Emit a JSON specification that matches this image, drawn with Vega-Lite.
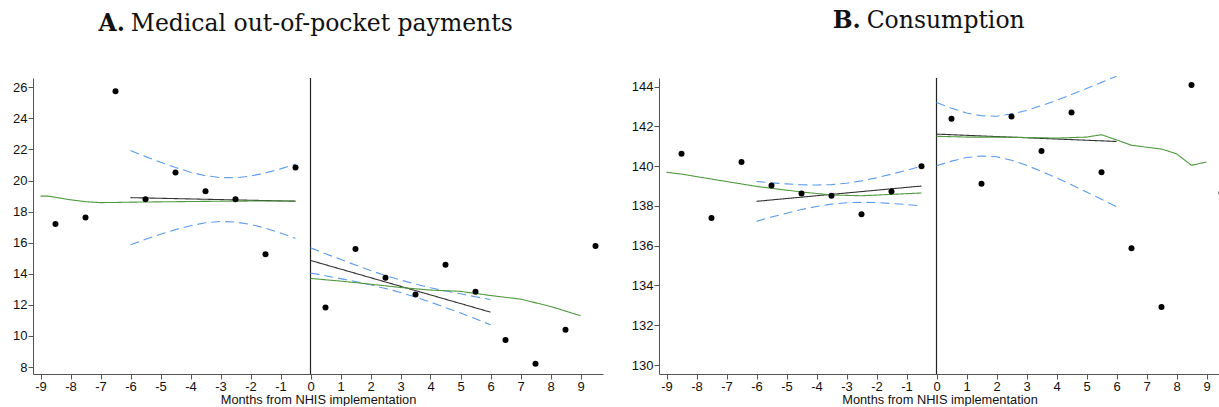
{
  "$schema": "https://vega.github.io/schema/vega-lite/v6.json",
  "padding": {"left": 12, "top": 8, "right": 0, "bottom": 0},
  "spacing": 28,
  "background": "white",
  "config": {
    "view": {"stroke": null},
    "axis": {
      "domainColor": "#555", "tickColor": "#555", "labelColor": "#111",
      "labelFont": "Liberation Sans", "labelFontSize": 13, "tickSize": 5, "labelPadding": 1,
      "grid": false, "titleFont": "Liberation Sans", "titleFontSize": 12.8, "titleFontWeight": "normal",
      "titleColor": "#111", "titlePadding": 0, "labelExpr": "'' + datum.value"
    },
    "title": {"font": "DejaVu Serif", "fontSize": 23.5, "fontWeight": "normal", "color": "#111", "frame": "bounds", "anchor": "middle"}
  },
  "datasets": {
    "ptsA": [
      {"x": -8.5, "y": 17.2}, {"x": -7.5, "y": 17.63}, {"x": -6.5, "y": 25.75}, {"x": -5.5, "y": 18.8},
      {"x": -4.5, "y": 20.52}, {"x": -3.5, "y": 19.31}, {"x": -2.5, "y": 18.8}, {"x": -1.5, "y": 15.25},
      {"x": -0.5, "y": 20.84}, {"x": 0.5, "y": 11.83}, {"x": 1.5, "y": 15.59}, {"x": 2.5, "y": 13.74},
      {"x": 3.5, "y": 12.67}, {"x": 4.5, "y": 14.58}, {"x": 5.5, "y": 12.84}, {"x": 6.5, "y": 9.74},
      {"x": 7.5, "y": 8.21}, {"x": 8.5, "y": 10.39}, {"x": 9.5, "y": 15.78}
    ],
    "linesA": [
      {"x": -6, "y": 18.9, "s": "fit", "g": "pre"}, {"x": -0.5, "y": 18.67, "s": "fit", "g": "pre"},
      {"x": 0, "y": 14.86, "s": "fit", "g": "post"}, {"x": 6, "y": 11.53, "s": "fit", "g": "post"},
      {"x": -6, "y": 21.93, "s": "upper", "g": "pre"}, {"x": -5.5, "y": 21.54, "s": "upper", "g": "pre"},
      {"x": -5, "y": 21.18, "s": "upper", "g": "pre"}, {"x": -4.5, "y": 20.84, "s": "upper", "g": "pre"},
      {"x": -4, "y": 20.54, "s": "upper", "g": "pre"}, {"x": -3.5, "y": 20.31, "s": "upper", "g": "pre"},
      {"x": -3, "y": 20.19, "s": "upper", "g": "pre"}, {"x": -2.5, "y": 20.18, "s": "upper", "g": "pre"},
      {"x": -2, "y": 20.29, "s": "upper", "g": "pre"}, {"x": -1.5, "y": 20.49, "s": "upper", "g": "pre"},
      {"x": -1, "y": 20.75, "s": "upper", "g": "pre"}, {"x": -0.5, "y": 21.06, "s": "upper", "g": "pre"},
      {"x": -6, "y": 15.87, "s": "lower", "g": "pre"}, {"x": -5.5, "y": 16.22, "s": "lower", "g": "pre"},
      {"x": -5, "y": 16.54, "s": "lower", "g": "pre"}, {"x": -4.5, "y": 16.84, "s": "lower", "g": "pre"},
      {"x": -4, "y": 17.09, "s": "lower", "g": "pre"}, {"x": -3.5, "y": 17.28, "s": "lower", "g": "pre"},
      {"x": -3, "y": 17.37, "s": "lower", "g": "pre"}, {"x": -2.5, "y": 17.33, "s": "lower", "g": "pre"},
      {"x": -2, "y": 17.18, "s": "lower", "g": "pre"}, {"x": -1.5, "y": 16.94, "s": "lower", "g": "pre"},
      {"x": -1, "y": 16.63, "s": "lower", "g": "pre"}, {"x": -0.5, "y": 16.28, "s": "lower", "g": "pre"},
      {"x": 0, "y": 15.67, "s": "upper", "g": "post"}, {"x": 0.5, "y": 15.29, "s": "upper", "g": "post"},
      {"x": 1, "y": 14.93, "s": "upper", "g": "post"}, {"x": 1.5, "y": 14.56, "s": "upper", "g": "post"},
      {"x": 2, "y": 14.21, "s": "upper", "g": "post"}, {"x": 2.5, "y": 13.89, "s": "upper", "g": "post"},
      {"x": 3, "y": 13.6, "s": "upper", "g": "post"}, {"x": 3.5, "y": 13.34, "s": "upper", "g": "post"},
      {"x": 4, "y": 13.1, "s": "upper", "g": "post"}, {"x": 4.5, "y": 12.89, "s": "upper", "g": "post"},
      {"x": 5, "y": 12.71, "s": "upper", "g": "post"}, {"x": 5.5, "y": 12.52, "s": "upper", "g": "post"},
      {"x": 6, "y": 12.34, "s": "upper", "g": "post"},
      {"x": 0, "y": 14.05, "s": "lower", "g": "post"}, {"x": 0.5, "y": 13.87, "s": "lower", "g": "post"},
      {"x": 1, "y": 13.69, "s": "lower", "g": "post"}, {"x": 1.5, "y": 13.5, "s": "lower", "g": "post"},
      {"x": 2, "y": 13.29, "s": "lower", "g": "post"}, {"x": 2.5, "y": 13.05, "s": "lower", "g": "post"},
      {"x": 3, "y": 12.8, "s": "lower", "g": "post"}, {"x": 3.5, "y": 12.5, "s": "lower", "g": "post"},
      {"x": 4, "y": 12.18, "s": "lower", "g": "post"}, {"x": 4.5, "y": 11.83, "s": "lower", "g": "post"},
      {"x": 5, "y": 11.47, "s": "lower", "g": "post"}, {"x": 5.5, "y": 11.1, "s": "lower", "g": "post"},
      {"x": 6, "y": 10.72, "s": "lower", "g": "post"},
      {"x": -9, "y": 19.0, "s": "lowess", "g": "pre"}, {"x": -8.75, "y": 19.0, "s": "lowess", "g": "pre"},
      {"x": -8.5, "y": 18.92, "s": "lowess", "g": "pre"}, {"x": -8, "y": 18.76, "s": "lowess", "g": "pre"},
      {"x": -7.5, "y": 18.64, "s": "lowess", "g": "pre"}, {"x": -7, "y": 18.58, "s": "lowess", "g": "pre"},
      {"x": -6.5, "y": 18.59, "s": "lowess", "g": "pre"}, {"x": -6, "y": 18.61, "s": "lowess", "g": "pre"},
      {"x": -5, "y": 18.63, "s": "lowess", "g": "pre"}, {"x": -4, "y": 18.65, "s": "lowess", "g": "pre"},
      {"x": -3, "y": 18.67, "s": "lowess", "g": "pre"}, {"x": -2, "y": 18.68, "s": "lowess", "g": "pre"},
      {"x": -1, "y": 18.68, "s": "lowess", "g": "pre"}, {"x": -0.5, "y": 18.68, "s": "lowess", "g": "pre"},
      {"x": 0, "y": 13.7, "s": "lowess", "g": "post"}, {"x": 1, "y": 13.53, "s": "lowess", "g": "post"},
      {"x": 2, "y": 13.33, "s": "lowess", "g": "post"}, {"x": 3, "y": 13.12, "s": "lowess", "g": "post"},
      {"x": 4, "y": 12.95, "s": "lowess", "g": "post"}, {"x": 5, "y": 12.87, "s": "lowess", "g": "post"},
      {"x": 6, "y": 12.6, "s": "lowess", "g": "post"}, {"x": 7, "y": 12.37, "s": "lowess", "g": "post"},
      {"x": 8, "y": 11.9, "s": "lowess", "g": "post"}, {"x": 9, "y": 11.3, "s": "lowess", "g": "post"}
    ],
    "ptsB": [
      {"x": -8.5, "y": 140.62}, {"x": -7.5, "y": 137.39}, {"x": -6.5, "y": 140.21}, {"x": -5.5, "y": 139.03},
      {"x": -4.5, "y": 138.63}, {"x": -3.5, "y": 138.51}, {"x": -2.5, "y": 137.58}, {"x": -1.5, "y": 138.73},
      {"x": -0.5, "y": 139.99}, {"x": 0.5, "y": 142.38}, {"x": 1.5, "y": 139.12}, {"x": 2.5, "y": 142.5},
      {"x": 3.5, "y": 140.76}, {"x": 4.5, "y": 142.7}, {"x": 5.5, "y": 139.69}, {"x": 6.5, "y": 135.87},
      {"x": 7.5, "y": 132.92}, {"x": 8.5, "y": 144.08}, {"x": 9.5, "y": 138.65}
    ],
    "linesB": [
      {"x": -6, "y": 138.23, "s": "fit", "g": "pre"}, {"x": -0.5, "y": 139.0, "s": "fit", "g": "pre"},
      {"x": 0, "y": 141.61, "s": "fit", "g": "post"}, {"x": 6, "y": 141.24, "s": "fit", "g": "post"},
      {"x": -6, "y": 139.23, "s": "upper", "g": "pre"}, {"x": -5.5, "y": 139.16, "s": "upper", "g": "pre"},
      {"x": -5, "y": 139.11, "s": "upper", "g": "pre"}, {"x": -4.5, "y": 139.06, "s": "upper", "g": "pre"},
      {"x": -4, "y": 139.05, "s": "upper", "g": "pre"}, {"x": -3.5, "y": 139.07, "s": "upper", "g": "pre"},
      {"x": -3, "y": 139.14, "s": "upper", "g": "pre"}, {"x": -2.5, "y": 139.26, "s": "upper", "g": "pre"},
      {"x": -2, "y": 139.41, "s": "upper", "g": "pre"}, {"x": -1.5, "y": 139.6, "s": "upper", "g": "pre"},
      {"x": -1, "y": 139.79, "s": "upper", "g": "pre"}, {"x": -0.5, "y": 140.0, "s": "upper", "g": "pre"},
      {"x": -6, "y": 137.23, "s": "lower", "g": "pre"}, {"x": -5.5, "y": 137.44, "s": "lower", "g": "pre"},
      {"x": -5, "y": 137.63, "s": "lower", "g": "pre"}, {"x": -4.5, "y": 137.82, "s": "lower", "g": "pre"},
      {"x": -4, "y": 137.97, "s": "lower", "g": "pre"}, {"x": -3.5, "y": 138.09, "s": "lower", "g": "pre"},
      {"x": -3, "y": 138.16, "s": "lower", "g": "pre"}, {"x": -2.5, "y": 138.18, "s": "lower", "g": "pre"},
      {"x": -2, "y": 138.17, "s": "lower", "g": "pre"}, {"x": -1.5, "y": 138.12, "s": "lower", "g": "pre"},
      {"x": -1, "y": 138.07, "s": "lower", "g": "pre"}, {"x": -0.5, "y": 138.0, "s": "lower", "g": "pre"},
      {"x": 0, "y": 143.2, "s": "upper", "g": "post"}, {"x": 0.5, "y": 142.91, "s": "upper", "g": "post"},
      {"x": 1, "y": 142.67, "s": "upper", "g": "post"}, {"x": 1.5, "y": 142.53, "s": "upper", "g": "post"},
      {"x": 2, "y": 142.51, "s": "upper", "g": "post"}, {"x": 2.5, "y": 142.62, "s": "upper", "g": "post"},
      {"x": 3, "y": 142.8, "s": "upper", "g": "post"}, {"x": 3.5, "y": 143.04, "s": "upper", "g": "post"},
      {"x": 4, "y": 143.31, "s": "upper", "g": "post"}, {"x": 4.5, "y": 143.6, "s": "upper", "g": "post"},
      {"x": 5, "y": 143.9, "s": "upper", "g": "post"}, {"x": 5.5, "y": 144.21, "s": "upper", "g": "post"},
      {"x": 6, "y": 144.52, "s": "upper", "g": "post"},
      {"x": 0, "y": 140.02, "s": "lower", "g": "post"}, {"x": 0.5, "y": 140.25, "s": "lower", "g": "post"},
      {"x": 1, "y": 140.43, "s": "lower", "g": "post"}, {"x": 1.5, "y": 140.51, "s": "lower", "g": "post"},
      {"x": 2, "y": 140.47, "s": "lower", "g": "post"}, {"x": 2.5, "y": 140.3, "s": "lower", "g": "post"},
      {"x": 3, "y": 140.04, "s": "lower", "g": "post"}, {"x": 3.5, "y": 139.74, "s": "lower", "g": "post"},
      {"x": 4, "y": 139.41, "s": "lower", "g": "post"}, {"x": 4.5, "y": 139.06, "s": "lower", "g": "post"},
      {"x": 5, "y": 138.7, "s": "lower", "g": "post"}, {"x": 5.5, "y": 138.33, "s": "lower", "g": "post"},
      {"x": 6, "y": 137.96, "s": "lower", "g": "post"},
      {"x": -9, "y": 139.69, "s": "lowess", "g": "pre"}, {"x": -8.5, "y": 139.6, "s": "lowess", "g": "pre"},
      {"x": -7.5, "y": 139.35, "s": "lowess", "g": "pre"}, {"x": -6, "y": 138.98, "s": "lowess", "g": "pre"},
      {"x": -4.5, "y": 138.7, "s": "lowess", "g": "pre"}, {"x": -3.5, "y": 138.55, "s": "lowess", "g": "pre"},
      {"x": -2.5, "y": 138.51, "s": "lowess", "g": "pre"}, {"x": -1.5, "y": 138.58, "s": "lowess", "g": "pre"},
      {"x": -0.5, "y": 138.65, "s": "lowess", "g": "pre"},
      {"x": 0, "y": 141.5, "s": "lowess", "g": "post"}, {"x": 1, "y": 141.46, "s": "lowess", "g": "post"},
      {"x": 2, "y": 141.46, "s": "lowess", "g": "post"}, {"x": 3, "y": 141.44, "s": "lowess", "g": "post"},
      {"x": 4, "y": 141.41, "s": "lowess", "g": "post"}, {"x": 5, "y": 141.46, "s": "lowess", "g": "post"},
      {"x": 5.5, "y": 141.58, "s": "lowess", "g": "post"}, {"x": 6, "y": 141.32, "s": "lowess", "g": "post"},
      {"x": 6.5, "y": 141.05, "s": "lowess", "g": "post"}, {"x": 7, "y": 140.95, "s": "lowess", "g": "post"},
      {"x": 7.5, "y": 140.86, "s": "lowess", "g": "post"}, {"x": 8, "y": 140.62, "s": "lowess", "g": "post"},
      {"x": 8.5, "y": 140.04, "s": "lowess", "g": "post"}, {"x": 9, "y": 140.21, "s": "lowess", "g": "post"}
    ]
  },
  "hconcat": [
    {
      "title": {"text": "A.", "fontWeight": "bold", "dx": -196, "offset": -24},
      "vconcat": [
        {
          "title": {"text": "Medical out-of-pocket payments", "dx": 14, "offset": 42},
          "width": 570, "height": 296,
          "encoding": {
            "x": {"type": "quantitative", "scale": {"domain": [-9.25, 9.75], "nice": false, "zero": false},
                  "axis": {"values": [-9, -8, -7, -6, -5, -4, -3, -2, -1, 0, 1, 2, 3, 4, 5, 6, 7, 8, 9], "title": "Months from NHIS implementation"}},
            "y": {"type": "quantitative", "scale": {"domain": [7.55, 26.6], "nice": false, "zero": false},
                  "axis": {"values": [8, 10, 12, 14, 16, 18, 20, 22, 24, 26], "title": null}}
          },
          "layer": [
            {"data": {"values": [{}]}, "mark": {"type": "rule", "color": "#222", "strokeWidth": 1.2}, "encoding": {"x": {"datum": 0}, "y": null}},
            {"data": {"name": "linesA"}, "mark": {"type": "line", "strokeWidth": 1.1},
             "encoding": {
               "x": {"field": "x"}, "y": {"field": "y"}, "detail": {"field": "g"},
               "color": {"field": "s", "scale": {"domain": ["fit", "upper", "lower", "lowess"], "range": ["#333333", "#5b9cf0", "#5b9cf0", "#4f9a3f"]}, "legend": null},
               "strokeDash": {"field": "s", "scale": {"domain": ["fit", "upper", "lower", "lowess"], "range": [[1, 0], [9, 5], [9, 5], [1, 0]]}, "legend": null}
             }},
            {"data": {"name": "ptsA"}, "mark": {"type": "circle", "color": "black", "opacity": 1, "size": 36},
             "encoding": {"x": {"field": "x"}, "y": {"field": "y"}}}
          ]
        }
      ]
    },
    {
      "title": {"text": "B.", "fontWeight": "bold", "dx": -79, "offset": -24},
      "vconcat": [
        {
          "title": {"text": "Consumption", "dx": 20, "offset": 42},
          "width": 561, "height": 296,
          "encoding": {
            "x": {"type": "quantitative", "scale": {"domain": [-9.25, 9.45], "nice": false, "zero": false},
                  "axis": {"values": [-9, -8, -7, -6, -5, -4, -3, -2, -1, 0, 1, 2, 3, 4, 5, 6, 7, 8, 9], "title": "Months from NHIS implementation"}},
            "y": {"type": "quantitative", "scale": {"domain": [129.55, 144.43], "nice": false, "zero": false},
                  "axis": {"values": [130, 132, 134, 136, 138, 140, 142, 144], "title": null}}
          },
          "layer": [
            {"data": {"values": [{}]}, "mark": {"type": "rule", "color": "#222", "strokeWidth": 1.2}, "encoding": {"x": {"datum": 0}, "y": null}},
            {"data": {"name": "linesB"}, "mark": {"type": "line", "strokeWidth": 1.1},
             "encoding": {
               "x": {"field": "x"}, "y": {"field": "y"}, "detail": {"field": "g"},
               "color": {"field": "s", "scale": {"domain": ["fit", "upper", "lower", "lowess"], "range": ["#333333", "#5b9cf0", "#5b9cf0", "#4f9a3f"]}, "legend": null},
               "strokeDash": {"field": "s", "scale": {"domain": ["fit", "upper", "lower", "lowess"], "range": [[1, 0], [9, 5], [9, 5], [1, 0]]}, "legend": null}
             }},
            {"data": {"name": "ptsB"}, "mark": {"type": "circle", "color": "black", "opacity": 1, "size": 36, "clip": true},
             "encoding": {"x": {"field": "x"}, "y": {"field": "y"}}}
          ]
        }
      ]
    }
  ]
}
